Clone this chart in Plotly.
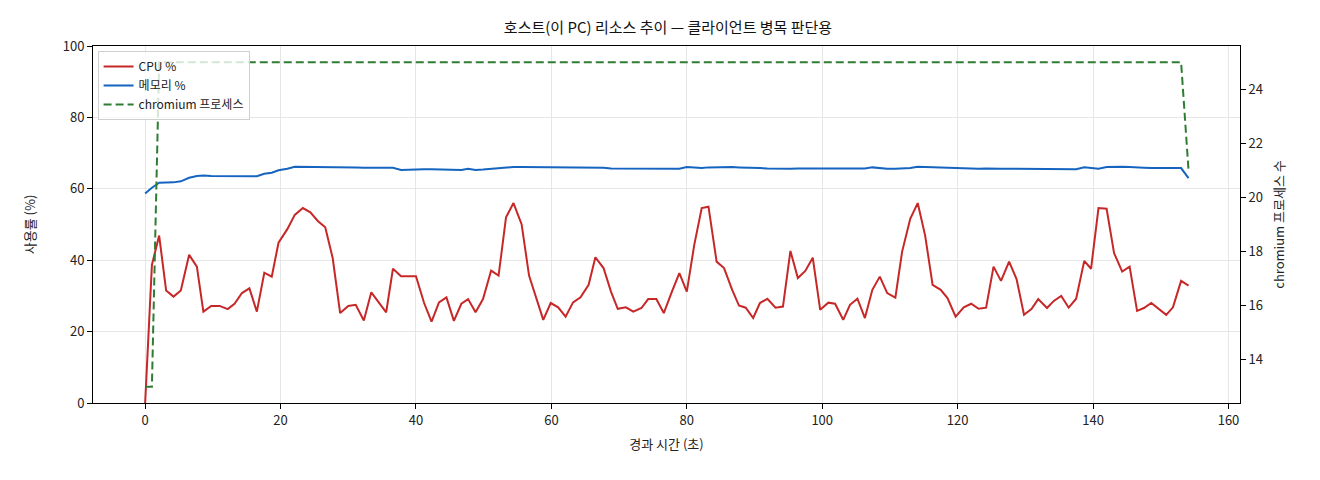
import plotly.graph_objects as go

# 경과 시간 (초)
elapsed = [0, 1.0, 2.07, 3.1, 4.19, 5.27, 6.5, 7.64, 8.6, 9.76, 11.0, 12.2, 13.2, 14.3, 15.4, 16.5,
           17.6, 18.7, 19.7, 21.0, 22.1, 23.3, 24.4, 25.5, 26.6, 27.7, 28.8, 30.0, 31.1, 32.3, 33.4,
           34.5, 35.6, 36.6, 37.8, 38.9, 40.0, 41.2, 42.3, 43.4, 44.5, 45.6, 46.7, 47.7, 48.8, 49.9,
           51.1, 52.2, 53.3, 54.4, 55.6, 56.7, 57.8, 58.8, 59.9, 61.0, 62.1, 63.2, 64.3, 65.5, 66.5,
           67.7, 68.8, 69.8, 71.0, 72.1, 73.3, 74.3, 75.5, 76.6, 77.8, 78.9, 80.0, 81.1, 82.2, 83.2,
           84.4, 85.5, 86.7, 87.7, 88.7, 89.8, 90.8, 91.9, 93.1, 94.2, 95.3, 96.4, 97.5, 98.6, 99.7,
           100.9, 101.9, 103.1, 104.1, 105.2, 106.3, 107.4, 108.5, 109.6, 110.8, 111.8, 113.0, 114.1,
           115.2, 116.3, 117.5, 118.5, 119.7, 120.9, 122.0, 123.1, 124.2, 125.3, 126.4, 127.6, 128.7,
           129.8, 130.9, 131.9, 133.2, 134.2, 135.3, 136.4, 137.5, 138.7, 139.7, 140.8, 142.0, 143.1,
           144.3, 145.4, 146.5, 147.5, 148.6, 149.7, 150.8, 151.8, 153.0, 154.1]

cpu = [0, 38.7, 46.9, 31.5, 29.8, 31.5, 41.5, 38.2, 25.6, 27.2, 27.2, 26.3, 27.8, 30.8, 32.1, 25.6,
       36.5, 35.4, 44.9, 48.7, 52.7, 54.6, 53.4, 51.0, 49.2, 40.6, 25.2, 27.2, 27.5, 23.1, 31.0,
       28.2, 25.4, 37.6, 35.5, 35.5, 35.5, 28.0, 22.8, 28.2, 29.6, 23.0, 27.8, 29.1, 25.4, 29.1,
       37.1, 35.7, 52.0, 56.0, 50.1, 35.7, 29.4, 23.3, 28.0, 26.8, 24.2, 28.2, 29.6, 33.1, 40.8,
       37.8, 31.2, 26.4, 26.8, 25.6, 26.6, 29.1, 29.1, 25.2, 31.2, 36.4, 31.2, 44.3, 54.6, 55.0,
       39.6, 37.8, 31.7, 27.3, 26.7, 23.8, 28.0, 29.2, 26.7, 27.0, 42.6, 35.0, 37.0, 40.7, 26.1,
       28.1, 27.8, 23.3, 27.5, 29.2, 23.8, 31.7, 35.4, 30.8, 29.5, 42.4, 51.6, 56.0,
       46.9, 33.1, 31.7, 29.4, 24.2, 26.8, 27.8, 26.4, 26.7, 38.2, 34.2, 39.6, 34.7,
       24.7, 26.3, 29.1, 26.6, 28.6, 30.0, 26.7, 29.2, 39.8, 37.6, 54.6, 54.4, 42.0,
       36.8, 38.2, 25.8, 26.6, 28.0, 26.3, 24.7, 26.8, 34.2, 32.9]

memory = [58.7, 60.3, 61.7, 61.7, 61.8, 62.1, 63.1, 63.6, 63.7, 63.6, 63.6, 63.6, 63.6, 63.6, 63.6, 63.5,
          64.2, 64.5, 65.2, 65.6, 66.2, 66.2, 66.1, 66.1, 66.1, 66.0, 66.0, 66.0, 66.0, 65.9, 65.9,
          65.8, 65.8, 65.9, 65.3, 65.4, 65.5, 65.5, 65.5, 65.4, 65.4, 65.4, 65.3, 65.6, 65.3, 65.4,
          65.6, 65.7, 65.9, 66.1, 66.1, 66.1, 66.1, 66.1, 66.1, 66.1, 66.0, 65.9, 65.9, 66.0, 66.0,
          65.9, 65.7, 65.7, 65.7, 65.7, 65.7, 65.6, 65.7, 65.6, 65.7, 65.6, 66.1, 65.9, 65.8, 66.0,
          66.1, 66.1, 66.1, 66.0, 66.0, 65.9, 65.8, 65.7, 65.6, 65.6, 65.6, 65.7, 65.7, 65.8, 65.8,
          65.8, 65.8, 65.8, 65.7, 65.7, 65.7, 66.0, 65.8, 65.6, 65.6, 65.7, 65.8, 66.2,
          66.1, 66.1, 66.0, 65.9, 65.8, 65.7, 65.7, 65.6, 65.7, 65.6, 65.6, 65.6, 65.6,
          65.5, 65.5, 65.5, 65.5, 65.4, 65.4, 65.4, 65.5, 66.0, 65.8, 65.6, 66.1, 66.2,
          66.2, 66.1, 66.1, 65.9, 65.8, 65.8, 65.8, 65.8, 65.8, 63.0]

chromium = [13, 13] + [25] * 137 + [21]

fig = go.Figure()
fig.add_trace(go.Scatter(x=elapsed, y=cpu, mode='lines', name='CPU %',
                         line=dict(color='#c62828', width=2)))
fig.add_trace(go.Scatter(x=elapsed, y=memory, mode='lines', name='메모리 %',
                         line=dict(color='#1565c0', width=2)))
fig.add_trace(go.Scatter(x=elapsed, y=chromium, mode='lines', name='chromium 프로세스',
                         line=dict(color='#2e7d32', width=2, dash='8px,4px'), yaxis='y2'))

font = "Noto Sans CJK KR, Noto Sans, sans-serif"
axis_common = dict(showline=True, linecolor='black', linewidth=1, ticks='outside',
                   ticklen=5, tickcolor='black', tickfont=dict(size=13, color='#222'), zeroline=False)

fig.update_layout(
    width=1320, height=480,
    margin=dict(l=85, r=88, t=38, b=85),
    paper_bgcolor='white', plot_bgcolor='white',
    font=dict(family=font, color='#222'),
    title=dict(text='호스트(이 PC) 리소스 추이 — 클라이언트 병목 판단용', x=0.5, xanchor='center',
               y=0.958, yanchor='middle', font=dict(size=15, color='#111')),
    xaxis=dict(range=[-7.7, 161.7], tickvals=[0, 20, 40, 60, 80, 100, 120, 140, 160],
               title=dict(text='경과 시간 (초)', font=dict(size=13), standoff=12),
               showgrid=True, gridcolor='#e6e6e6', mirror=True, **axis_common),
    yaxis=dict(range=[0, 100], tickvals=[0, 20, 40, 60, 80, 100],
               title=dict(text='사용률 (%)', font=dict(size=13), standoff=24),
               showgrid=True, gridcolor='#e6e6e6', **axis_common),
    yaxis2=dict(range=[12.4, 25.6], tickvals=[14, 16, 18, 20, 22, 24], overlaying='y', side='right',
                title=dict(text='chromium 프로세스 수', font=dict(size=13), standoff=12),
                showgrid=False, **axis_common),
    legend=dict(x=0.004, y=0.986, xanchor='left', yanchor='top', bgcolor='rgba(255,255,255,0.8)',
                bordercolor='#d0d0d0', borderwidth=1, font=dict(size=12), tracegroupgap=0),
)

fig.write_html("out.html")
